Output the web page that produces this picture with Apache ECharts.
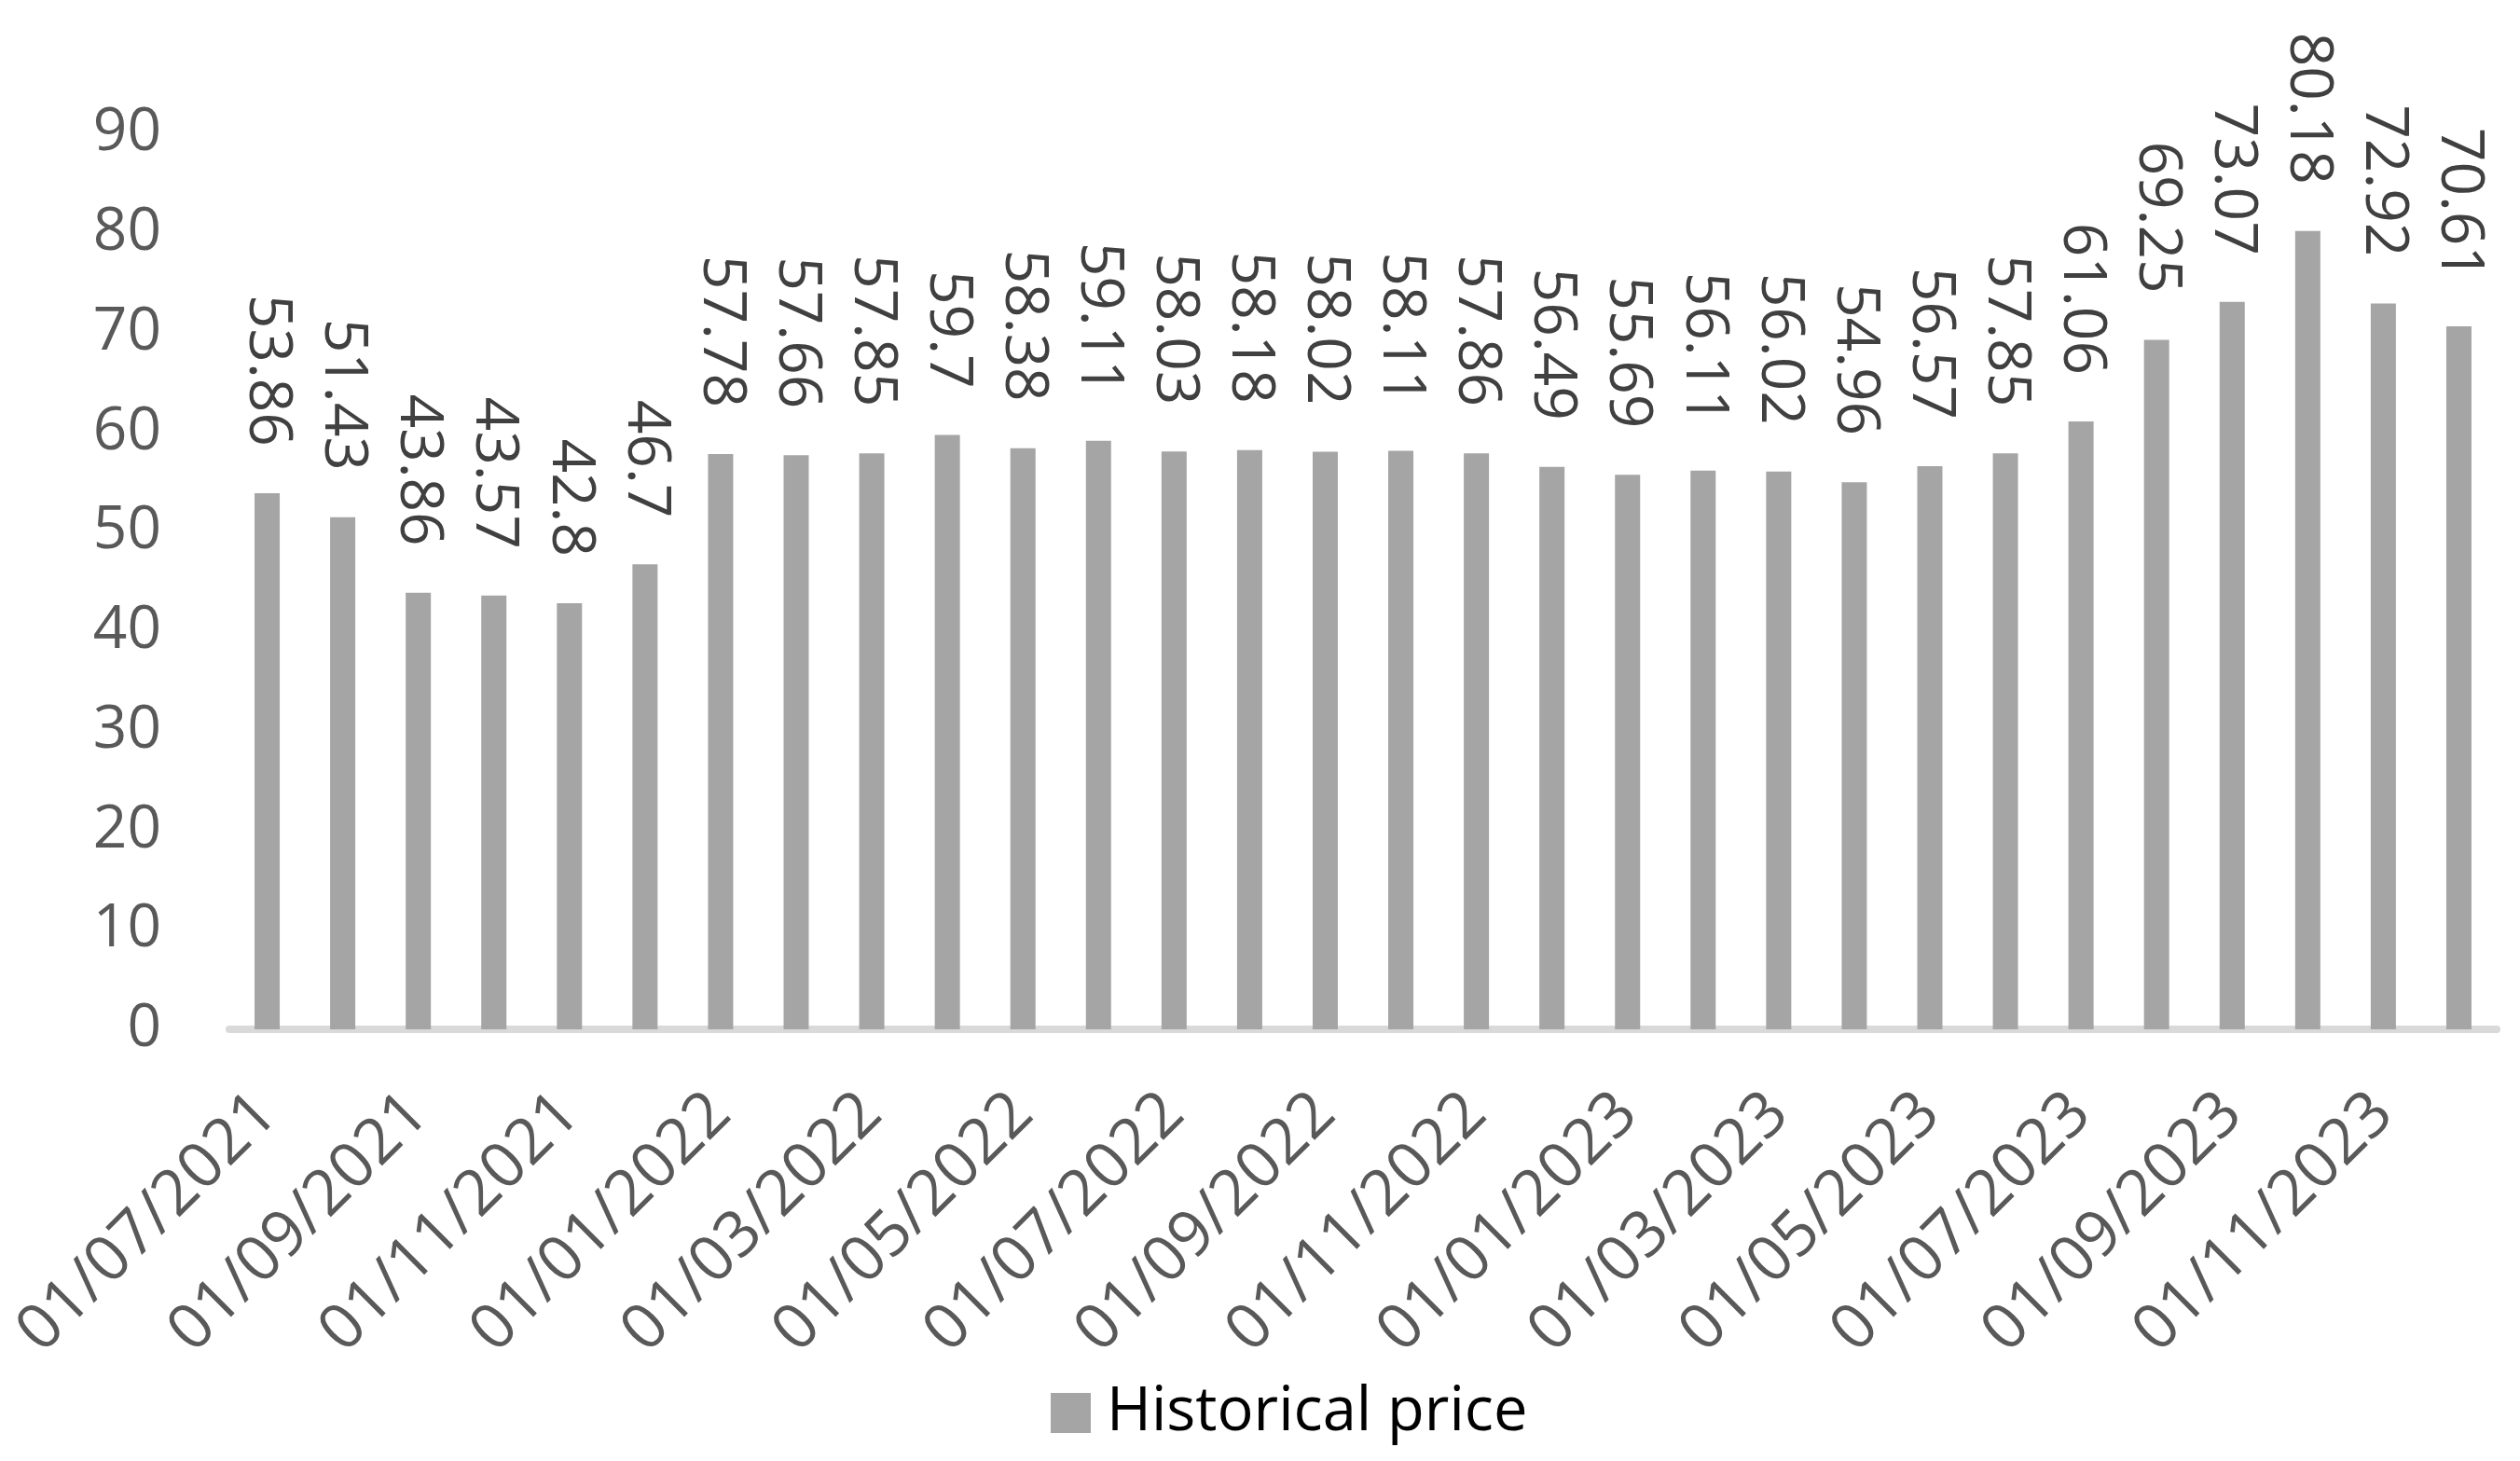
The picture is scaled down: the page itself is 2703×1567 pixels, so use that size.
<!DOCTYPE html>
<html>
<head>
<meta charset="utf-8">
<script src="https://cdn.jsdelivr.net/npm/echarts@6/dist/echarts.min.js"></script>
<style>
  html, body { margin: 0; padding: 0; background: #fff; }
  #container { width: 2703px; height: 1567px; }
</style>
</head>
<body>
<div id="container"></div>
<script>
// 月份 (每月1日)
var months = [
    '01/07/2021', '01/08/2021', '01/09/2021', '01/10/2021', '01/11/2021', '01/12/2021',
    '01/01/2022', '01/02/2022', '01/03/2022', '01/04/2022', '01/05/2022', '01/06/2022',
    '01/07/2022', '01/08/2022', '01/09/2022', '01/10/2022', '01/11/2022', '01/12/2022',
    '01/01/2023', '01/02/2023', '01/03/2023', '01/04/2023', '01/05/2023', '01/06/2023',
    '01/07/2023', '01/08/2023', '01/09/2023', '01/10/2023', '01/11/2023', '01/12/2023'
];
// 价格
var prices = [
    53.86, 51.43, 43.86, 43.57, 42.8, 46.7,
    57.78, 57.66, 57.85, 59.7, 58.38, 59.11,
    58.03, 58.18, 58.02, 58.11, 57.86, 56.49,
    55.69, 56.11, 56.02, 54.96, 56.57, 57.85,
    61.06, 69.25, 73.07, 80.18, 72.92, 70.61
];
var seriesName = 'Historical price';
var yMin = 0, yMax = 90, yStep = 10;

var font = '"Open Sans", "Noto Sans", sans-serif';

var dom = document.getElementById('container');
var myChart = echarts.init(dom);
var option = {
    backgroundColor: '#ffffff',
    animation: false,
    textStyle: { fontFamily: font },
    grid: {
        left: 246,
        right: 25,
        top: 143,
        bottom: 463
    },
    legend: {
        data: [seriesName],
        left: 1122,
        top: 1478,
        itemWidth: 43,
        itemHeight: 43,
        itemGap: 20,
        icon: 'rect',
        textStyle: { fontFamily: font, fontSize: 65, color: '#000000', padding: [0, 0, 0, 12] }
    },
    xAxis: {
        type: 'category',
        data: months,
        axisLine: { show: true, lineStyle: { color: '#d9d9d9', width: 8 } },
        axisTick: { show: false },
        axisLabel: {
            interval: 1,
            rotate: 45,
            margin: 80,
            fontFamily: font,
            fontSize: 68,
            color: '#595959'
        }
    },
    yAxis: {
        type: 'value',
        min: yMin,
        max: yMax,
        interval: yStep,
        axisLine: { show: false },
        axisTick: { show: false },
        splitLine: { show: false },
        axisLabel: {
            margin: 73,
            fontFamily: font,
            fontSize: 64,
            color: '#595959'
        }
    },
    series: [
        {
            name: seriesName,
            type: 'bar',
            data: prices,
            barWidth: 27,
            itemStyle: { color: '#a5a5a5' },
            label: {
                show: true,
                position: 'top',
                distance: 50,
                rotate: -90,
                align: 'right',
                verticalAlign: 'middle',
                fontFamily: font,
                fontSize: 64,
                color: '#404040'
            }
        }
    ]
};
if (option && typeof option === "object") {
    myChart.setOption(option, true);
}
</script>
</body>
</html>
